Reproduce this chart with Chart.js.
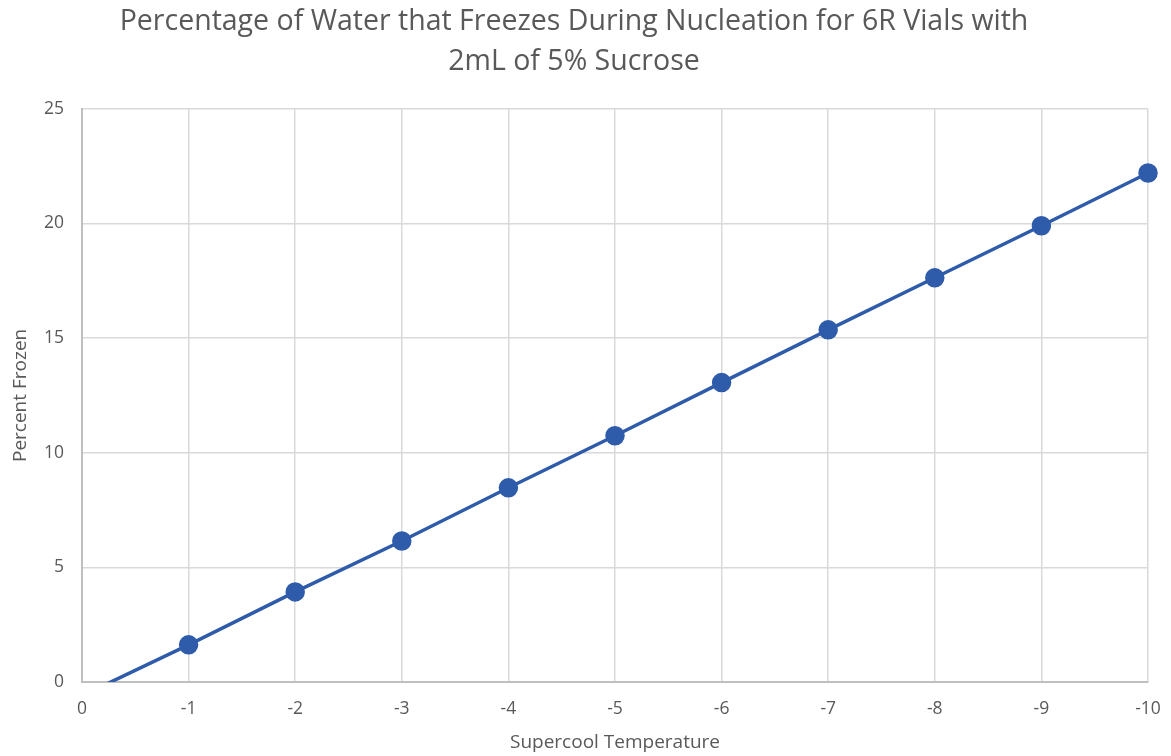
<!DOCTYPE html>
<html>
<head>
<meta charset="utf-8">
<script src="https://cdn.jsdelivr.net/npm/chart.js@4/dist/chart.umd.min.js"></script>
<style>
  html, body { margin: 0; padding: 0; background: #fff; }
  #wrap { width: 1171px; height: 756px; }
</style>
</head>
<body>
<div id="wrap"><canvas id="freezeChart" width="1171" height="756"></canvas></div>
<script>
// Supercool temperature (deg C) vs percent of water frozen at nucleation
const temps = [0, -1, -2, -3, -4, -5, -6, -7, -8, -9, -10];
const percentFrozen = [-0.6, 1.62, 3.93, 6.15, 8.47, 10.74, 13.06, 15.36, 17.63, 19.9, 22.2];
const titleLines = [
  "Percentage of Water that Freezes During Nucleation for 6R Vials with",
  "2mL of 5% Sucrose",
];

const textGray = "#595959";
const gridGray = "#d9d9d9";
const lineBlue = "#2f5caa";
const fontFamily = "'Open Sans', sans-serif";

const points = temps.map((t, i) => ({ x: t, y: percentFrozen[i] }));

new Chart(document.getElementById("freezeChart").getContext("2d"), {
  type: "scatter",
  data: {
    datasets: [
      {
        label: "Percent Frozen",
        data: points,
        showLine: true,
        borderColor: lineBlue,
        backgroundColor: lineBlue,
        borderWidth: 3.5,
        // first point sits below the axis, only its line segment shows
        pointRadius: temps.map((t, i) => (i === 0 ? 0 : 8)),
        pointHoverRadius: 8,
        // cut the line at the x axis but let the last marker overhang the right edge
        clip: { left: 0, top: 12, right: 12, bottom: 0 },
      },
    ],
  },
  options: {
    responsive: false,
    animation: false,
    layout: { padding: { left: 0, right: 23, top: 0, bottom: 0 } },
    plugins: {
      legend: { display: false },
      tooltip: { enabled: false },
      title: {
        display: true,
        text: titleLines,
        color: textGray,
        font: { family: fontFamily, size: 28.5, weight: "normal", lineHeight: 1.4 },
        padding: { top: 2, bottom: 27 },
      },
    },
    scales: {
      x: {
        type: "linear",
        reverse: true,
        min: -10,
        max: 0,
        ticks: {
          stepSize: 1,
          maxRotation: 0,
          color: textGray,
          font: { family: fontFamily, size: 17.5 },
          padding: 17,
        },
        grid: { color: gridGray, lineWidth: 1.5, drawTicks: false },
        border: { color: "#bfbfbf", width: 2 },
        title: {
          display: true,
          text: "Supercool Temperature",
          color: textGray,
          font: { family: fontFamily, size: 19 },
          padding: { top: 0, bottom: 2 },
        },
        afterFit: (scale) => {
          scale.height = 74;
          // edge labels fit inside the layout padding, no extra room needed
          scale.paddingLeft = 0;
          scale.paddingRight = 0;
        },
      },
      y: {
        min: 0,
        max: 25,
        ticks: {
          stepSize: 5,
          color: textGray,
          font: { family: fontFamily, size: 17.5 },
          padding: 18,
        },
        grid: { color: gridGray, lineWidth: 1.5, drawTicks: false },
        border: { color: "#bfbfbf", width: 2 },
        title: {
          display: true,
          text: "Percent Frozen",
          color: textGray,
          font: { family: fontFamily, size: 19 },
          padding: { top: 9, bottom: 0 },
        },
        afterFit: (scale) => { scale.width = 82; },
      },
    },
  },
});
</script>
</body>
</html>
